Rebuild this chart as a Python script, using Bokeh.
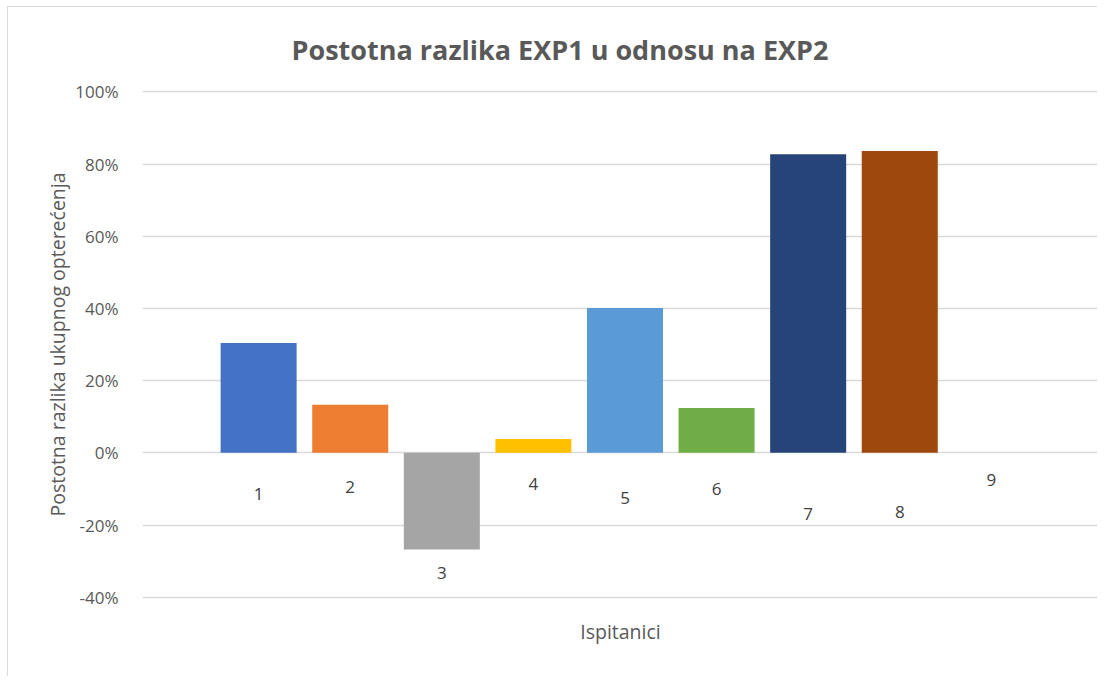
from bokeh.plotting import figure
from bokeh.embed import file_html
from bokeh.resources import INLINE
from bokeh.models import ColumnDataSource, FixedTicker, NumeralTickFormatter, Range1d
from bokeh.core.properties import value

# ---- data ----
categories = ["1", "2", "3", "4", "5", "6", "7", "8", "9"]
positions = [1, 2, 3, 4, 5, 6, 7, 8, 9]
values = [0.304, 0.133, -0.268, 0.038, 0.401, 0.124, 0.827, 0.836, 0.0]
colors = ["#4472C4", "#ED7D31", "#A5A5A5", "#FFC000", "#5B9BD5",
          "#70AD47", "#264478", "#9E480E", "#636363"]
# vertical placement of the category labels (as in the original chart)
label_y = [-0.114, -0.094, -0.332, -0.086, -0.125, -0.100, -0.169, -0.163, -0.075]
y_ticks = [-0.4, -0.2, 0.0, 0.2, 0.4, 0.6, 0.8, 1.0]

title_text = "Postotna razlika EXP1 u odnosu na EXP2"
y_title = "Postotna razlika ukupnog opterećenja"
x_title = "Ispitanici"

FONT = "Open Sans"
GRAY = "#595959"

src = ColumnDataSource(dict(x=positions, top=values, color=colors,
                            ly=label_y, lab=categories))

p = figure(width=1090, height=670, output_backend="svg", toolbar_location=None,
           x_range=Range1d(-0.268, 10.17), y_range=Range1d(-0.4063, 1.0064),
           min_border_left=134, min_border_right=0, min_border_top=82,
           min_border_bottom=78, title=title_text)
p.styles = {"margin-left": "7px", "margin-top": "6px",
            "border-left": "1px solid #d9d9d9", "border-top": "1px solid #d9d9d9"}

p.vbar(x="x", top="top", bottom=0, width=0.83, color="color", line_color=None, source=src)
p.text(x="x", y="ly", text="lab", source=src, text_align="center",
       text_baseline="middle", text_font=value(FONT), text_font_size="17px",
       text_color="#404040")

p.outline_line_color = None
p.background_fill_color = "white"
p.border_fill_color = "white"
p.xgrid.grid_line_color = None
p.ygrid.grid_line_color = "#d9d9d9"
p.ygrid.grid_line_width = 1.3
p.ygrid.level = "underlay"

p.title.align = "left"
p.title.offset = 149
p.title.vertical_align = "top"
p.title.text_font = FONT
p.title.text_font_size = "27px"
p.title.text_font_style = "bold"
p.title.text_color = GRAY
p.title.standoff = 40

p.yaxis.ticker = FixedTicker(ticks=y_ticks)
p.yaxis.formatter = NumeralTickFormatter(format="0%")
p.yaxis.axis_line_color = None
p.yaxis.major_tick_line_color = None
p.yaxis.minor_tick_line_color = None
p.yaxis.major_label_standoff = 18
p.yaxis.major_label_text_font = FONT
p.yaxis.major_label_text_font_size = "17px"
p.yaxis.major_label_text_color = GRAY
p.yaxis.axis_label = y_title
p.yaxis.axis_label_text_font = FONT
p.yaxis.axis_label_text_font_size = "19.5px"
p.yaxis.axis_label_text_font_style = "normal"
p.yaxis.axis_label_text_color = GRAY
p.yaxis.axis_label_standoff = 1

p.xaxis.ticker = FixedTicker(ticks=[])
p.xaxis.axis_line_color = None
p.xaxis.major_tick_line_color = None
p.xaxis.minor_tick_line_color = None
p.xaxis.axis_label = x_title
p.xaxis.axis_label_text_font = FONT
p.xaxis.axis_label_text_font_size = "19.5px"
p.xaxis.axis_label_text_font_style = "normal"
p.xaxis.axis_label_text_color = GRAY
p.xaxis.axis_label_standoff = 18

open("out.html", "w").write(file_html(p, INLINE))
